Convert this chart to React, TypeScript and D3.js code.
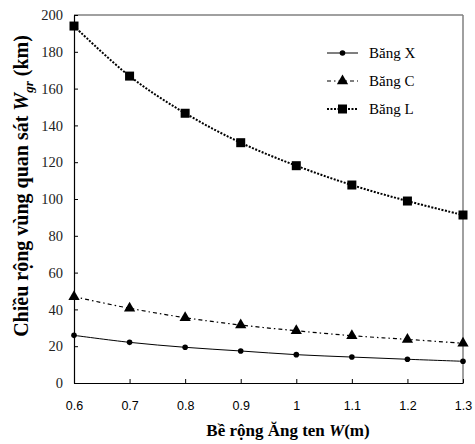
import React, { useEffect, useRef } from 'react';
import * as d3 from 'd3';

const widths = [0.6, 0.7, 0.8, 0.9, 1.0, 1.1, 1.2, 1.3];
const bandX = [25.9, 22.1, 19.4, 17.4, 15.4, 14.1, 12.9, 11.8];
const bandC = [46.9, 40.6, 35.5, 31.5, 28.4, 25.7, 23.7, 21.6];
const bandL = [194, 166.8, 146.6, 130.6, 118.1, 107.6, 98.9, 91.3];
const xTicks = [0.6, 0.7, 0.8, 0.9, 1, 1.1, 1.2, 1.3];
const yTicks = [0, 20, 40, 60, 80, 100, 120, 140, 160, 180, 200];
const seriesNames = ['Băng X', 'Băng C', 'Băng L'];

const W = 475;
const H = 444;
const SERIF = '"Liberation Serif", "Times New Roman", serif';

const App = () => {
  const svgRef = useRef<SVGSVGElement>(null);

  useEffect(() => {
    const svg = d3.select(svgRef.current);
    svg.selectAll('*').remove();

    const m = { left: 74, right: 463, top: 15, bottom: 383 };
    const x = d3.scaleLinear().domain([0.6, 1.3]).range([m.left, m.right]);
    const y = d3.scaleLinear().domain([0, 200]).range([m.bottom, m.top]);

    // frame: gray top/right, dark left/bottom
    svg.append('line').attr('x1', m.left).attr('x2', m.right).attr('y1', m.top).attr('y2', m.top)
      .attr('stroke', '#808080').attr('stroke-width', 1.5);
    svg.append('line').attr('x1', m.right).attr('x2', m.right).attr('y1', m.top).attr('y2', m.bottom)
      .attr('stroke', '#808080').attr('stroke-width', 1.5);

    const yAxis = svg.append('g').attr('transform', `translate(${m.left},0)`)
      .call(d3.axisLeft(y).tickValues(yTicks).tickSizeInner(-4).tickSizeOuter(0).tickPadding(11).tickFormat(d3.format('d')));
    yAxis.select('.domain').attr('stroke', '#000').attr('stroke-width', 1.2);
    yAxis.selectAll('line').attr('stroke', '#000');
    yAxis.selectAll('text').style('font-family', SERIF)
      .style('font-size', '14.5px').attr('fill', '#222');

    const xAxis = svg.append('g').attr('transform', `translate(0,${m.bottom})`)
      .call(d3.axisBottom(x).tickValues(xTicks).tickSizeInner(-4).tickSizeOuter(0).tickPadding(18).tickFormat(d3.format('')));
    xAxis.select('.domain').attr('stroke', '#000').attr('stroke-width', 1.2);
    xAxis.selectAll('line').attr('stroke', '#000');
    xAxis.selectAll('text').style('font-family', '"Liberation Sans", Arial, sans-serif')
      .style('font-size', '12.5px').attr('fill', '#000');

    const line = d3.line<number>()
      .x((_, i) => x(widths[i]))
      .y(d => y(d))
      .curve(d3.curveCatmullRom);

    const styles = [
      { data: bandX, dash: null, width: 1, marker: 'circle' },
      { data: bandC, dash: '4,3,1.5,3', width: 1.2, marker: 'triangle' },
      { data: bandL, dash: '2,1.5', width: 2, marker: 'square' },
    ];

    const drawMarker = (g: any, kind: string, cx: number, cy: number) => {
      if (kind === 'circle') {
        g.append('circle').attr('cx', cx).attr('cy', cy).attr('r', 2.8).attr('fill', '#000');
      } else if (kind === 'triangle') {
        g.append('path').attr('d', d3.symbol(d3.symbolTriangle, 55)())
          .attr('transform', `translate(${cx},${cy})`).attr('fill', '#000');
      } else {
        g.append('rect').attr('x', cx - 4.5).attr('y', cy - 4.5).attr('width', 9).attr('height', 9).attr('fill', '#000');
      }
    };

    styles.forEach(s => {
      const g = svg.append('g');
      g.append('path').datum(s.data).attr('d', line).attr('fill', 'none')
        .attr('stroke', '#000').attr('stroke-width', s.width)
        .attr('stroke-dasharray', s.dash);
      s.data.forEach((v, i) => drawMarker(g, s.marker, x(widths[i]), y(v)));
    });

    // legend
    const legend = svg.append('g');
    styles.forEach((s, i) => {
      const ly = 53 + i * 28;
      legend.append('line').attr('x1', 327).attr('x2', 358).attr('y1', ly).attr('y2', ly)
        .attr('stroke', '#000').attr('stroke-width', s.width).attr('stroke-dasharray', s.dash);
      drawMarker(legend, s.marker, 342.5, ly);
      legend.append('text').attr('x', 369).attr('y', ly + 5)
        .style('font-family', SERIF)
        .style('font-size', '15px').text(seriesNames[i]);
    });

    // axis titles
    const xt = svg.append('text').attr('x', 288).attr('y', 436)
      .attr('text-anchor', 'middle')
      .style('font-family', SERIF)
      .style('font-size', '17px').style('font-weight', 'bold');
    xt.append('tspan').text('Bề rộng Ăng ten ');
    xt.append('tspan').style('font-style', 'italic').text('W');
    xt.append('tspan').text('(m)');

    const yt = svg.append('text')
      .attr('transform', `translate(28,186) rotate(-90)`)
      .attr('text-anchor', 'middle')
      .style('font-family', SERIF)
      .style('font-size', '20px').style('font-weight', 'bold');
    yt.append('tspan').text('Chiều rộng vùng quan sát ');
    yt.append('tspan').style('font-style', 'italic').text('W');
    yt.append('tspan').style('font-style', 'italic').style('font-size', '13px').attr('dy', 5).text('gr');
    yt.append('tspan').attr('dy', -5).text(' (km)');
  }, []);

  return (
    <svg ref={svgRef} width={W} height={H}
      style={{ position: 'absolute', left: 0, top: 0, background: '#fff' }} />
  );
};

export default App;
